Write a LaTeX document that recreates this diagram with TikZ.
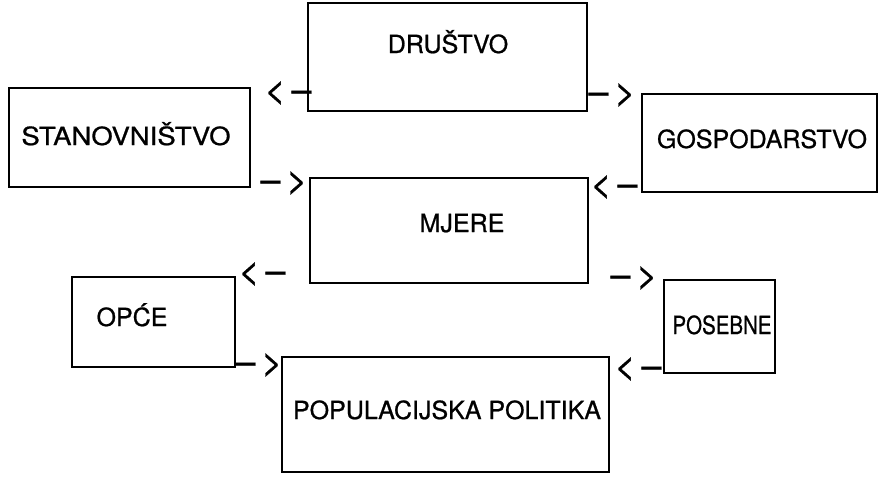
\documentclass[tikz,border=0pt]{standalone}
\usepackage{fontspec}
\setmainfont{TeX Gyre Heros}
\newfontfamily\tekstfont{TeX Gyre Heros}[FakeBold=0.8]
\usetikzlibrary{positioning}
\tikzset{
  okvir/.style={draw, line width=1.2pt, inner sep=0pt},
  natpis/.style={font=\tekstfont\fontsize{25}{30}\selectfont, text height=18pt, text depth=0pt, inner sep=0pt},
  strelica/.style={font=\tekstfont\fontsize{36}{40}\selectfont, inner sep=0pt}
}

\begin{document}
\begin{tikzpicture}[x=1pt,y=-1pt]
\useasboundingbox (0,0) rectangle (882,477);
% okviri
\node[okvir, minimum width=279, minimum height=108] (drustvo) at (447.5,57) {};
\node[okvir, minimum width=241, minimum height=99] (stanovnistvo) at (129.5,137.5) {};
\node[okvir, minimum width=235, minimum height=98] (gospodarstvo) at (759.5,143) {};
\node[okvir, minimum width=278, minimum height=105] (mjere) at (449,230.5) {};
\node[okvir, minimum width=163, minimum height=90] (opce) at (153.5,322) {};
\node[okvir, minimum width=111, minimum height=93] (posebne) at (719.5,326.5) {};
\node[okvir, minimum width=327, minimum height=115] (politika) at (445.5,414.5) {};
% natpisi
\node[natpis] (tdrustvo) at (448,44) {DRUŠTVO};
\node[natpis] (tstanovnistvo) at (126,136) {\scalebox{1.1}[1]{STANOVNIŠTVO}};
\node[natpis] (tgospodarstvo) at (762,139) {GOSPODARSTVO};
\node[natpis] (tmjere) at (462,223) {MJERE};
\node[natpis] (topce) at (132,317) {OPĆE};
\node[natpis] (tposebne) at (722,325) {\scalebox{0.82}[1]{POSEBNE}};
\node[natpis] (tpolitika) at (447,410) {POPULACIJSKA POLITIKA};
% strelice
\foreach \ime/\x/\y/\tekst in {s1/288/93/{<\,–}, s2/612/95/{–\,>}, s3/284/183/{–\,>}, s4/614/187/{<\,–},
    s5/262/274/{<\,–}, s6/634/278/{–\,>}, s7/259/365/{–\,>}, s8/638/369/{<\,–}}
  \node[strelica] (\ime) at (\x,\y) {\tekst};
\end{tikzpicture}
\end{document}
